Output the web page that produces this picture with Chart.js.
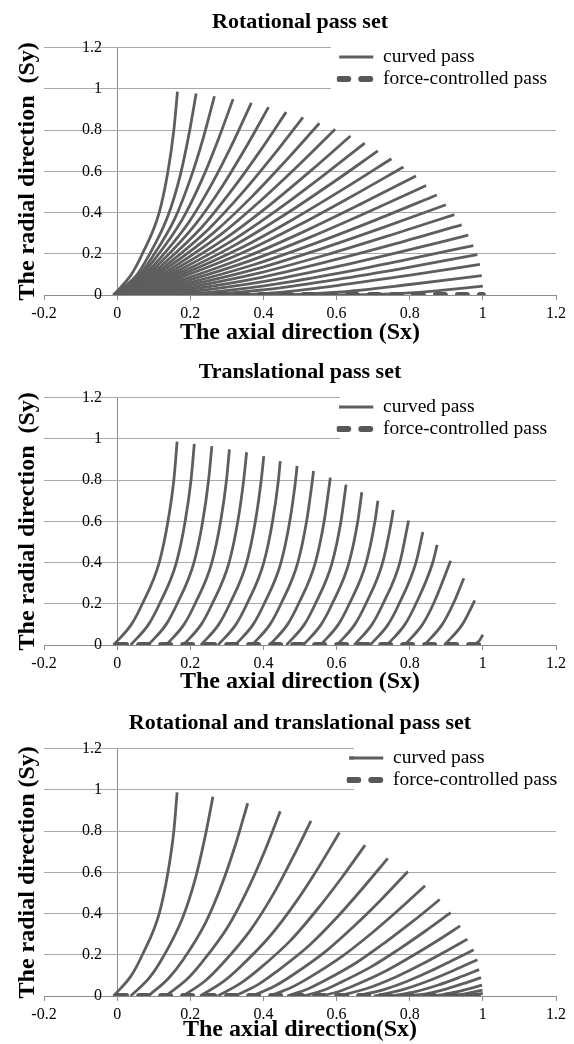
<!DOCTYPE html>
<html>
<head>
<meta charset="utf-8">
<script src="https://cdn.jsdelivr.net/npm/chart.js@4.4.1/dist/chart.umd.min.js"></script>
<style>
  html, body { margin: 0; padding: 0; background: #fff; overflow: hidden; }
  #wrap { position: relative; width: 574px; height: 1044px; }
  canvas { position: absolute; left: 0; }
</style>
</head>
<body>
<div id="wrap">
  <canvas id="rotChart" width="574" height="350" style="top:0px"></canvas>
  <canvas id="transChart" width="574" height="350" style="top:350px"></canvas>
  <canvas id="combChart" width="574" height="350" style="top:701px"></canvas>
</div>
<script>
// tick labels
const xTickLabels = ['-0.2', '0', '0.2', '0.4', '0.6', '0.8', '1', '1.2'];
const yTickLabels = ['0', '0.2', '0.4', '0.6', '0.8', '1', '1.2'];

// Rotational pass set: each curve as [Sx, Sy] points
const rotationalPasses = [
  [[-0.01,0],[0.039,0.1],[0.069,0.2],[0.115,0.4],[0.139,0.6],[0.155,0.8],[0.165,0.987]],
  [[-0.01,0],[0.051,0.091],[0.085,0.186],[0.138,0.379],[0.172,0.577],[0.196,0.776],[0.216,0.977]],
  [[-0.01,0],[0.056,0.088],[0.095,0.181],[0.158,0.372],[0.201,0.567],[0.236,0.765],[0.266,0.964]],
  [[-0.01,0],[0.060,0.086],[0.104,0.176],[0.177,0.363],[0.231,0.556],[0.276,0.752],[0.317,0.950]],
  [[-0.01,0],[0.065,0.082],[0.114,0.171],[0.196,0.353],[0.260,0.543],[0.316,0.737],[0.367,0.932]],
  [[-0.01,0],[0.069,0.079],[0.122,0.164],[0.214,0.343],[0.288,0.529],[0.353,0.719],[0.414,0.911]],
  [[-0.01,0],[0.073,0.075],[0.131,0.158],[0.232,0.330],[0.315,0.512],[0.391,0.699],[0.462,0.887]],
  [[-0.01,0],[0.077,0.071],[0.139,0.151],[0.249,0.318],[0.342,0.495],[0.427,0.677],[0.508,0.862]],
  [[-0.01,0],[0.080,0.067],[0.146,0.143],[0.265,0.304],[0.368,0.476],[0.462,0.653],[0.553,0.833]],
  [[-0.01,0],[0.084,0.063],[0.154,0.135],[0.281,0.290],[0.392,0.457],[0.496,0.629],[0.596,0.804]],
  [[-0.01,0],[0.087,0.058],[0.161,0.127],[0.296,0.275],[0.416,0.435],[0.529,0.602],[0.638,0.771]],
  [[-0.01,0],[0.090,0.053],[0.167,0.118],[0.310,0.259],[0.438,0.413],[0.559,0.573],[0.677,0.737]],
  [[-0.01,0],[0.092,0.049],[0.173,0.109],[0.322,0.242],[0.458,0.389],[0.587,0.542],[0.713,0.699]],
  [[-0.01,0],[0.095,0.044],[0.178,0.100],[0.335,0.225],[0.478,0.364],[0.616,0.511],[0.750,0.661]],
  [[-0.01,0],[0.097,0.039],[0.183,0.091],[0.346,0.207],[0.497,0.339],[0.641,0.478],[0.783,0.621]],
  [[-0.01,0],[0.099,0.033],[0.188,0.080],[0.357,0.188],[0.515,0.311],[0.667,0.442],[0.817,0.577]],
  [[-0.01,0],[0.100,0.028],[0.192,0.070],[0.366,0.168],[0.530,0.282],[0.689,0.405],[0.845,0.531]],
  [[-0.01,0],[0.102,0.022],[0.196,0.059],[0.375,0.148],[0.545,0.253],[0.711,0.367],[0.874,0.485]],
  [[-0.01,0],[0.103,0.017],[0.199,0.049],[0.383,0.128],[0.558,0.224],[0.730,0.329],[0.899,0.438]],
  [[-0.01,0],[0.104,0.011],[0.201,0.038],[0.390,0.107],[0.570,0.194],[0.747,0.290],[0.922,0.390]],
  [[-0.01,0],[0.104,0.006],[0.203,0.028],[0.395,0.086],[0.580,0.164],[0.762,0.249],[0.942,0.340]],
  [[-0.01,0],[0.105,0.000],[0.205,0.017],[0.399,0.065],[0.589,0.133],[0.775,0.209],[0.960,0.290]],
  [[-0.01,0],[0.105,0],[0.205,0.006],[0.402,0.044],[0.595,0.102],[0.785,0.169],[0.974,0.240]],
  [[-0.01,0],[0.205,0],[0.404,0.026],[0.599,0.075],[0.793,0.133],[0.985,0.196]],
  [[-0.01,0],[0.205,0],[0.405,0.007],[0.602,0.046],[0.797,0.095],[0.992,0.148]],
  [[-0.01,0],[0.400,0],[0.602,0.014],[0.800,0.051],[0.997,0.094]],
  [[-0.01,0],[0.600,0],[0.801,0.010],[1.000,0.043]]
];
const rotationalForce = [[0.27,0],[1.0,0]];

// Translational pass set
const translationalPasses = [
  [[-0.01,0],[0.039,0.1],[0.069,0.2],[0.115,0.4],[0.139,0.6],[0.155,0.8],[0.164,0.986]],
  [[0.037,0],[0.086,0.1],[0.116,0.2],[0.162,0.4],[0.186,0.6],[0.202,0.8],[0.211,0.976]],
  [[0.085,0],[0.134,0.1],[0.164,0.2],[0.21,0.4],[0.234,0.6],[0.25,0.8],[0.259,0.965]],
  [[0.134,0],[0.183,0.1],[0.213,0.2],[0.259,0.4],[0.283,0.6],[0.299,0.8],[0.307,0.949]],
  [[0.181,0],[0.23,0.1],[0.26,0.2],[0.306,0.4],[0.33,0.6],[0.346,0.8],[0.354,0.935]],
  [[0.229,0],[0.278,0.1],[0.308,0.2],[0.354,0.4],[0.378,0.6],[0.394,0.8],[0.401,0.916]],
  [[0.276,0],[0.325,0.1],[0.355,0.2],[0.401,0.4],[0.425,0.6],[0.441,0.8],[0.446,0.892]],
  [[0.323,0],[0.372,0.1],[0.402,0.2],[0.448,0.4],[0.472,0.6],[0.488,0.8],[0.492,0.869]],
  [[0.369,0],[0.418,0.1],[0.448,0.2],[0.494,0.4],[0.518,0.6],[0.534,0.8],[0.537,0.844]],
  [[0.417,0],[0.466,0.1],[0.496,0.2],[0.542,0.4],[0.566,0.6],[0.583,0.812]],
  [[0.463,0],[0.512,0.1],[0.542,0.2],[0.588,0.4],[0.612,0.6],[0.626,0.778]],
  [[0.509,0],[0.558,0.1],[0.588,0.2],[0.634,0.4],[0.658,0.6],[0.669,0.741]],
  [[0.556,0],[0.605,0.1],[0.635,0.2],[0.681,0.4],[0.705,0.6],[0.713,0.700]],
  [[0.601,0],[0.65,0.1],[0.68,0.2],[0.726,0.4],[0.75,0.6],[0.755,0.655]],
  [[0.648,0],[0.697,0.1],[0.727,0.2],[0.773,0.4],[0.797,0.604]],
  [[0.692,0],[0.741,0.1],[0.771,0.2],[0.817,0.4],[0.836,0.548]],
  [[0.738,0],[0.787,0.1],[0.817,0.2],[0.863,0.4],[0.875,0.486]],
  [[0.786,0],[0.835,0.1],[0.865,0.2],[0.912,0.409]],
  [[0.84,0],[0.889,0.1],[0.919,0.2],[0.948,0.324]],
  [[0.895,0],[0.944,0.1],[0.978,0.216]],
  [[0.975,0],[0.99,0.02],[1.0,0.05]]
];
const translationalForce = [[0,0],[1.0,0]];

// Rotational and translational pass set
const combinedPasses = [
  [[-0.01,0],[0.039,0.1],[0.069,0.2],[0.115,0.4],[0.139,0.6],[0.155,0.8],[0.164,0.988]],
  [[0.037,0],[0.089,0.09],[0.124,0.184],[0.178,0.375],[0.214,0.571],[0.24,0.768],[0.262,0.967]],
  [[0.085,0],[0.14,0.085],[0.18,0.175],[0.243,0.36],[0.288,0.549],[0.325,0.742],[0.357,0.935]],
  [[0.132,0],[0.19,0.08],[0.233,0.166],[0.305,0.342],[0.359,0.524],[0.405,0.709],[0.446,0.896]],
  [[0.18,0],[0.241,0.074],[0.287,0.155],[0.365,0.321],[0.427,0.494],[0.48,0.671],[0.53,0.849]],
  [[0.227,0],[0.289,0.068],[0.337,0.142],[0.421,0.297],[0.49,0.459],[0.551,0.625],[0.608,0.793]],
  [[0.275,0],[0.337,0.061],[0.387,0.129],[0.475,0.271],[0.548,0.422],[0.615,0.576],[0.678,0.732]],
  [[0.322,0],[0.384,0.054],[0.434,0.116],[0.525,0.245],[0.602,0.383],[0.672,0.524],[0.74,0.668]],
  [[0.37,0],[0.431,0.048],[0.481,0.103],[0.572,0.219],[0.651,0.344],[0.725,0.473],[0.795,0.604]],
  [[0.417,0],[0.476,0.041],[0.525,0.089],[0.615,0.192],[0.695,0.303],[0.77,0.418],[0.842,0.535]],
  [[0.465,0],[0.521,0.034],[0.569,0.076],[0.657,0.165],[0.735,0.263],[0.81,0.364],[0.882,0.468]],
  [[0.512,0],[0.564,0.028],[0.609,0.064],[0.693,0.14],[0.769,0.225],[0.842,0.314],[0.912,0.404]],
  [[0.56,0],[0.608,0.023],[0.65,0.052],[0.729,0.116],[0.801,0.188],[0.871,0.263],[0.938,0.34]],
  [[0.607,0],[0.689,0.04],[0.762,0.092],[0.83,0.151],[0.894,0.212],[0.958,0.276]],
  [[0.655,0],[0.729,0.031],[0.795,0.073],[0.857,0.121],[0.916,0.172],[0.975,0.224]],
  [[0.702,0],[0.781,0.031],[0.852,0.074],[0.92,0.124],[0.985,0.176]],
  [[0.75,0],[0.816,0.021],[0.876,0.052],[0.934,0.089],[0.99,0.128]],
  [[0.797,0],[0.851,0.013],[0.901,0.035],[0.948,0.061],[0.995,0.089]],
  [[0.845,0],[0.886,0.006],[0.924,0.019],[0.961,0.035],[0.998,0.053]],
  [[0.892,0],[0.947,0.009],[0.973,0.019],[0.999,0.029]],
  [[0.94,0],[0.97,0.005],[1.0,0.013]]
];
const combinedForce = [[0,0],[1.0,0]];

Chart.defaults.font.family = "'Liberation Serif', 'Times New Roman', serif";
Chart.defaults.color = '#000';

const curveColor = '#5e5e5e';
const dashColor = '#585858';
const gridColor = '#a9a9a9';
const axisColor = '#8c8c8c';

function toPoints(pairs) {
  return pairs.map(p => ({ x: p[0], y: p[1] }));
}

// legend items take dash / cap / width from the dataset line itself
function lineLegendLabels(chart) {
  const items = Chart.defaults.plugins.legend.labels.generateLabels(chart);
  items.forEach(it => {
    const ds = chart.data.datasets[it.datasetIndex];
    it.lineDash = ds.borderDash || [];
    it.lineCap = ds.borderCapStyle || 'butt';
    it.lineWidth = ds.borderWidth;
    it.strokeStyle = ds.borderColor;
  });
  return items;
}

function makeChart(canvasId, cfg) {
  const datasets = [{
    label: 'force-controlled pass',
    data: toPoints(cfg.force),
    borderColor: dashColor,
    backgroundColor: dashColor,
    borderWidth: 6,
    borderDash: [9, 13],
    borderCapStyle: 'round',
    pointRadius: 0,
    showLine: true,
    yAxisID: 'y'
  }].concat(cfg.passes.map(p => ({
    label: 'curved pass',
    data: toPoints(p),
    borderColor: curveColor,
    backgroundColor: curveColor,
    borderWidth: 2.8,
    pointRadius: 0,
    showLine: true,
    cubicInterpolationMode: 'monotone',
    yAxisID: 'y'
  })));

  // legend sits inside the plot, top right, on a white patch
  const legendBox = {
    id: 'legendBox',
    afterLayout(chart) {
      const lg = chart.legend;
      const w = lg.width;
      lg.left = cfg.legendLeft;
      lg.right = lg.left + w + 10;
      lg.top = 44.75;
      lg.bottom = lg.top + 60;
    },
    afterDatasetsDraw(chart) {
      const ctx = chart.ctx;
      ctx.save();
      ctx.fillStyle = '#fff';
      ctx.fillRect(cfg.boxLeft, 47, chart.chartArea.right - cfg.boxLeft, 43);
      ctx.restore();
      chart.legend.draw();
    }
  };

  return new Chart(document.getElementById(canvasId), {
    type: 'scatter',
    data: { datasets: datasets },
    options: {
      responsive: false,
      animation: false,
      events: [],
      layout: { padding: { left: 0, right: 18, top: 0, bottom: 0 } },
      plugins: {
        tooltip: { enabled: false },
        title: {
          display: true,
          text: cfg.title,
          fullSize: false,
          color: '#000',
          font: { size: 22, weight: 'bold' },
          padding: { top: 7, bottom: 11.6 }
        },
        legend: {
          position: 'chartArea',
          align: 'start',
          labels: {
            usePointStyle: true,
            pointStyle: 'line',
            pointStyleWidth: 34,
            padding: 2.5,
            color: '#000',
            font: { size: 19.5 },
            generateLabels: lineLegendLabels,
            filter: (item) => item.datasetIndex <= 1,
            sort: (a, b) => b.datasetIndex - a.datasetIndex
          }
        }
      },
      scales: {
        x: {
          type: 'linear',
          min: -0.2,
          max: 1.2,
          ticks: {
            stepSize: 0.2,
            padding: 4,
            maxRotation: 0,
            color: '#000',
            font: { size: 16 },
            callback: (v, i) => xTickLabels[i]
          },
          // only the line at Sx = 0 is shown: it is the vertical axis
          grid: {
            drawOnChartArea: true,
            drawTicks: true,
            tickLength: 5,
            tickColor: axisColor,
            color: (c) => (c.tick && Math.abs(c.tick.value) < 1e-9) ? axisColor : 'rgba(0,0,0,0)'
          },
          border: { color: axisColor },
          title: {
            display: true,
            text: cfg.xTitle,
            color: '#000',
            font: { size: 24, weight: 'bold' },
            padding: cfg.xTitlePad
          }
        },
        y: {
          type: 'linear',
          min: 0,
          max: 1.2,
          position: 'left',
          weight: 0,
          afterFit: (s) => { s.width = 0; },
          // labels sit just left of Sx = 0, inside the plot
          ticks: {
            stepSize: 0.2,
            mirror: true,
            crossAlign: 'far',
            padding: 38,
            color: '#000',
            font: { size: 16 },
            callback: (v, i) => yTickLabels[i]
          },
          grid: { color: gridColor, drawTicks: false },
          border: { display: false }
        },
        yTitle: {
          type: 'linear',
          axis: 'y',
          position: 'left',
          weight: 10,
          ticks: { display: false },
          grid: { display: false, drawTicks: false },
          border: { display: false },
          title: {
            display: true,
            text: cfg.yTitle,
            color: '#000',
            font: { size: 24, weight: 'bold' },
            padding: { top: 13.6, bottom: 1.6 }
          }
        }
      }
    },
    plugins: [legendBox]
  });
}

makeChart('rotChart', {
  title: 'Rotational pass set',
  xTitle: 'The axial direction (Sx)',
  yTitle: 'The radial direction  (Sy)',
  passes: rotationalPasses,
  force: rotationalForce,
  xTitlePad: { top: -8.6, bottom: 2.6 },
  legendLeft: 336.75,
  boxLeft: 331
});

makeChart('transChart', {
  title: 'Translational pass set',
  xTitle: 'The axial direction (Sx)',
  yTitle: 'The radial direction  (Sy)',
  passes: translationalPasses,
  force: translationalForce,
  xTitlePad: { top: -9.6, bottom: 3.6 },
  legendLeft: 336.75,
  boxLeft: 340
});

makeChart('combChart', {
  title: 'Rotational and translational pass set',
  xTitle: 'The axial direction(Sx)',
  yTitle: 'The radial direction (Sy)',
  passes: combinedPasses,
  force: combinedForce,
  xTitlePad: { top: -12.6, bottom: 6.6 },
  legendLeft: 346.75,
  boxLeft: 354
});
</script>
</body>
</html>
